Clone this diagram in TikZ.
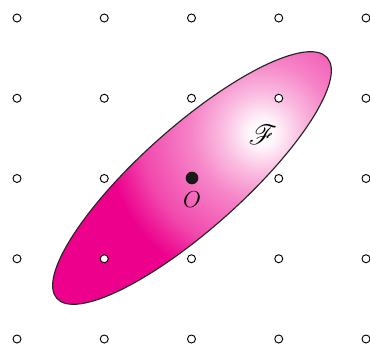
\documentclass[tikz,border=0pt]{standalone}
\usepackage{amsmath}
\usepackage{mathrsfs}
\usepackage{xcolor}
\usepackage{tikz}
\usetikzlibrary{positioning}
\definecolor{fmag}{RGB}{236,0,140}
\pgfdeclareradialshading{fspot}{\pgfpoint{0bp}{0bp}}{color(0bp)=(white); color(2bp)=(white!97!fmag); color(6bp)=(fmag!25); color(11bp)=(fmag!48); color(15bp)=(fmag!60); color(19bp)=(fmag!72); color(22bp)=(fmag!88); color(24.5bp)=(fmag); color(50bp)=(fmag)}

\begin{document}
\begin{tikzpicture}[x=0.75pt, y=-0.75pt, every node/.style={font=\fontsize{18}{21}\selectfont},
  latpt/.style={circle, draw, fill=white, line width=0.7pt, inner sep=0pt, minimum size=6pt},
  odot/.style={circle, fill=black!90, inner sep=0pt, minimum size=9.5pt}]
\useasboundingbox (0,0) rectangle (370,346);
\coordinate (c) at (192,178);
% shaded region
\begin{scope}
\clip[rotate around={41.7:(c)}] (c) ellipse [x radius=181, y radius=51];
\fill[fmag] (0,0) rectangle (370,346);
\shade[shading=fspot] (262,133) circle [radius=160];
\end{scope}
\draw[line width=0.85pt, black!85, rotate around={41.7:(c)}] (c) ellipse [x radius=181, y radius=51];
% lattice
\foreach \i in {0,...,4}{
  \foreach \j in {0,...,4}{
    \pgfmathtruncatemacro\k{\i*10+\j}
    \ifnum\k=22\else
      \node[latpt] (p\i\j) at ({17+87.25*\i},{18+80.25*\j}) {};
    \fi
  }
}
\node[odot] (o) at (c) {};
\node[below=1.5pt of o] (olab) {$O$};
\node[font=\fontsize{20}{24}\selectfont] (fam) at (263,135) {$\mathscr{F}$};
\end{tikzpicture}
\end{document}
